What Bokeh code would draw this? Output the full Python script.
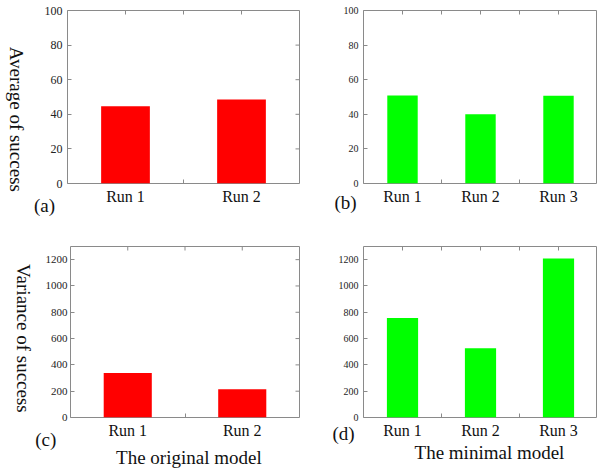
import math
from bokeh.plotting import figure
from bokeh.models import Range1d, FixedTicker, Label
from bokeh.layouts import column, row
from bokeh.embed import file_html
from bokeh.resources import INLINE

# ---- data ----
runs_orig = ["Run 1", "Run 2"]
runs_min = ["Run 1", "Run 2", "Run 3"]
avg_orig = [44.6, 48.6]
avg_min = [50.9, 40.0, 50.7]
var_orig = [339, 215]
var_min = [756, 527, 1208]
avg_ticks = [0, 20, 40, 60, 80, 100]
var_ticks = [0, 200, 400, 600, 800, 1000, 1200]

RED = "#ff0000"
GREEN = "#00ff00"
SERIF = "Liberation Serif"
FRAME = "#8a8a8a"


def panel(cats, vals, ymax, yticks, color, w, h, bl, br, bt, bb, bar_w, tick_fs,
          right_ticks=True, tick_standoff=5):
    n = len(cats)
    xs = list(range(1, n + 1))
    p = figure(width=w, height=h, x_range=Range1d(0.5, n + 0.5), y_range=Range1d(0, ymax),
               output_backend="svg", toolbar_location=None,
               min_border_left=bl, min_border_right=br, min_border_top=bt, min_border_bottom=bb)
    p.xgrid.visible = False
    p.ygrid.visible = False
    p.outline_line_color = FRAME
    p.outline_line_width = 1
    p.background_fill_color = "white"
    p.border_fill_color = "white"

    p.vbar(x=xs, top=vals, width=bar_w, bottom=0, fill_color=color, line_color=None)

    minor_x = [i + 0.5 for i in range(1, n)]
    overrides = {i + 1: c for i, c in enumerate(cats)}

    bx = p.xaxis[0]
    bx.ticker = FixedTicker(ticks=xs, minor_ticks=minor_x)
    bx.major_label_overrides = overrides
    bx.major_tick_in = 0
    bx.major_tick_out = 0
    bx.minor_tick_in = 4
    bx.minor_tick_out = 0
    bx.major_label_standoff = 4
    bx.major_label_text_font = SERIF
    bx.major_label_text_font_size = "16px"
    bx.major_label_text_color = "#111111"
    bx.axis_line_color = None
    bx.minor_tick_line_color = FRAME

    ly = p.yaxis[0]
    ly.ticker = FixedTicker(ticks=yticks, minor_ticks=[])
    ly.major_tick_in = 4
    ly.major_tick_out = 0
    ly.major_label_standoff = tick_standoff
    ly.major_label_text_font = SERIF
    ly.major_label_text_font_size = tick_fs
    ly.major_label_text_color = "#222222"
    ly.axis_line_color = None
    ly.major_tick_line_color = FRAME

    # inward ticks on the top edge (and right edge)
    top_x = sorted(xs + minor_x)
    p.ray(x=top_x, y=[ymax] * len(top_x), length=4, length_units="screen",
          angle=-math.pi / 2, line_color=FRAME, line_width=1)
    if right_ticks:
        p.ray(x=[n + 0.5] * len(yticks), y=yticks, length=4, length_units="screen",
              angle=math.pi, line_color=FRAME, line_width=1)
    return p


def lab(p, side, text, x, y, angle=0.0, size="19px", line_height=1.2):
    # placed in a side panel so that it is not clipped to the frame;
    # its position is given in the panel's data coordinates
    p.add_layout(Label(x=x, y=y, text=text, angle=angle,
                       text_font=SERIF, text_font_size=size, text_color="#111111",
                       text_line_height=line_height,
                       text_align="center", text_baseline="middle"), side)


pa = panel(runs_orig, avg_orig, 100, avg_ticks, RED, 300, 231, 67, 1, 10, 46, 0.42, "12px")
pb = panel(runs_min, avg_min, 100, avg_ticks, GREEN, 297, 231, 63, 0, 8, 48, 0.39, "10px", right_ticks=False)
pc = panel(runs_orig, var_orig, 1300, var_ticks, RED, 300, 244, 67, 1, 13, 56, 0.42, "11px", tick_standoff=3)
pd = panel(runs_min, var_min, 1300, var_ticks, GREEN, 297, 244, 63, 0, 15, 58, 0.40, "10px", right_ticks=False)

lab(pa, "left", "Average of success", 0.060, 37.1, -math.pi / 2, line_height=0.9)
lab(pa, "below", "(a)", 0.302, -12.6)
lab(pb, "left", "(b)", 0.269, -10.9)
lab(pc, "left", "Variance of success", 0.0905, 601.7, -math.pi / 2, line_height=0.9)
lab(pc, "left", "(c)", 0.2845, -170.9)
lab(pc, "below", "The original model", 1.534, -304.6)
lab(pd, "left", "(d)", 0.244, -121.6)
lab(pd, "below", "The minimal model", 2.115, -266.0)

layout = column(row(pa, pb), row(pc, pd))

with open("out.html", "w") as f:
    f.write(file_html(layout, INLINE))
